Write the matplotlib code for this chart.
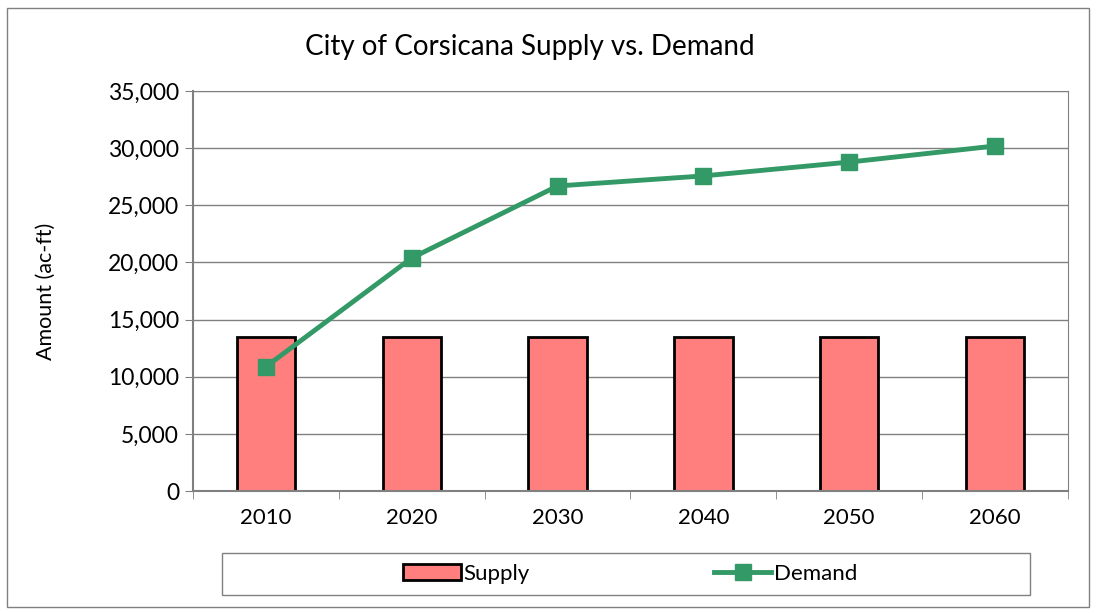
import matplotlib.pyplot as plt
import numpy as np
from matplotlib.patches import Rectangle
from matplotlib.ticker import FuncFormatter, FixedLocator

years = ['2010', '2020', '2030', '2040', '2050', '2060']
supply = [13450, 13450, 13450, 13450, 13450, 13450]
demand = [10880, 20390, 26690, 27570, 28780, 30190]

plt.rcParams['font.family'] = ['Lato', 'DejaVu Sans']

fig = plt.figure(figsize=(10.96, 6.13), dpi=100)
ax = fig.add_axes([193 / 1096, 1 - 491 / 613, 875 / 1096, 400 / 613])

x = np.arange(len(years))
bars = ax.bar(x, supply, width=0.4, color='#ff7f7f', edgecolor='black', linewidth=2,
              label='Supply', zorder=2)
line, = ax.plot(x, demand, color='#339966', linewidth=3.5, marker='s', markersize=12,
                label='Demand', zorder=3)

ax.set_xlim(-0.5, len(years) - 0.5)
ax.set_ylim(0, 35000)
ax.set_yticks(np.arange(0, 35001, 5000))
ax.yaxis.set_major_formatter(FuncFormatter(lambda v, p: f'{int(v):,}'))
ax.grid(axis='y', color='#808080', linewidth=1, zorder=0)
ax.set_axisbelow(True)

ax.set_xticks(x)
ax.set_xticklabels(years)
ax.xaxis.set_minor_locator(FixedLocator(np.arange(-0.5, len(years), 1.0)))
ax.tick_params(axis='x', which='major', length=0, pad=12, labelsize=16)
ax.tick_params(axis='x', which='minor', length=6, color='#808080', direction='out')
ax.tick_params(axis='y', length=6, color='#808080', labelsize=16.5, pad=4)

for side in ['top', 'right']:
    ax.spines[side].set_color('#808080')
for side in ['left', 'bottom']:
    ax.spines[side].set_color('#808080')
    ax.spines[side].set_linewidth(1.5)

ax.set_ylabel('Amount (ac-ft)', fontsize=15.5)
ax.yaxis.set_label_coords(-137 / 875, 0.5)
fig.text(530 / 1096, 1 - 47 / 613, 'City of Corsicana Supply vs. Demand',
         ha='center', va='center', fontsize=20)

# legend box
fig.patches.append(Rectangle((222 / 1096, 1 - 595 / 613), 808 / 1096, 42 / 613,
                             transform=fig.transFigure, fill=False,
                             edgecolor='#808080', linewidth=1))
leg = fig.legend([bars, line], ['Supply', 'Demand'], loc='center',
                 bbox_to_anchor=(630 / 1096, 1 - 574 / 613), ncol=2,
                 frameon=False, fontsize=16, columnspacing=8.3, handlelength=2.6,
                 handletextpad=0.1)

# outer border
fig.patches.append(Rectangle((7 / 1096, 1 - 607 / 613), 1082 / 1096, 599 / 613,
                             transform=fig.transFigure, fill=False,
                             edgecolor='#808080', linewidth=1))

fig.savefig('out.png', dpi=100)
